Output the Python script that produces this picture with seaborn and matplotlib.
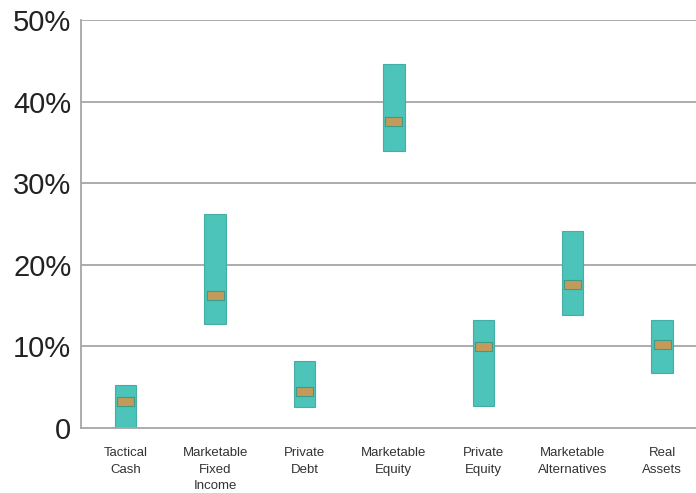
import numpy as np
import pandas as pd
import seaborn as sns
import matplotlib.pyplot as plt
from matplotlib.ticker import FixedLocator

categories = ['Tactical\nCash', 'Marketable\nFixed\nIncome', 'Private\nDebt', 'Marketable\nEquity',
              'Private\nEquity', 'Marketable\nAlternatives', 'Real\nAssets']
range_low = [0.0, 12.8, 2.6, 34.0, 2.7, 13.8, 6.8]
range_high = [5.3, 26.2, 8.2, 44.6, 13.2, 24.2, 13.2]
target = [3.3, 16.3, 4.5, 37.6, 10.0, 17.6, 10.2]
ytick_labels = ['0', '10%', '20%', '30%', '40%', '50%']

sns.set_style('white')
plt.rcParams['font.family'] = ['Liberation Sans', 'DejaVu Sans']

df = pd.DataFrame({'category': categories, 'low': range_low, 'high': range_high, 'target': target})
df['span'] = df['high'] - df['low']
df['mark'] = 1.1

fig = plt.figure(figsize=(6.96, 4.93), dpi=100)
ax = fig.add_axes([0.1164, 0.1318, 0.899, 0.8276])

# grid first so the bars sit on top of it
for v in range(10, 51, 10):
    ax.axhline(v, color='#a6a6a6', lw=1.3, zorder=0)

# floating range bars
sns.barplot(data=df, x='category', y='span', bottom=df['low'].values, color='#4cc4b9',
            saturation=1, width=0.24, edgecolor='#45aea4', linewidth=0.8, ax=ax, zorder=2)
# target marker
sns.barplot(data=df, x='category', y='mark', bottom=(df['target'] - 0.55).values, color='#c49a5a',
            saturation=1, width=0.19, edgecolor='#3f9a88', linewidth=0.8, ax=ax, zorder=3)

ax.set_xlim(-0.5, 6.5)
ax.set_ylim(0, 50)
ax.set_yticks(range(0, 51, 10))
ax.set_yticklabels(ytick_labels, fontsize=21, color='#222222')
ax.tick_params(axis='y', length=0, pad=7)
ax.tick_params(axis='x', which='major', length=0, pad=14, labelsize=9.5, labelcolor='#333333')
for lab in ax.get_xticklabels():
    lab.set_linespacing(1.5)
ax.xaxis.set_minor_locator(FixedLocator(np.arange(0.5, 6.5, 1)))
ax.tick_params(axis='x', which='minor', direction='in', length=7, width=1.2, color='#a6a6a6')
ax.set_xlabel('')
ax.set_ylabel('')

for s in ['top', 'right']:
    ax.spines[s].set_visible(False)
for s in ['left', 'bottom']:
    ax.spines[s].set_color('#a6a6a6')
    ax.spines[s].set_linewidth(1.3)

fig.savefig('out.png', dpi=100)
